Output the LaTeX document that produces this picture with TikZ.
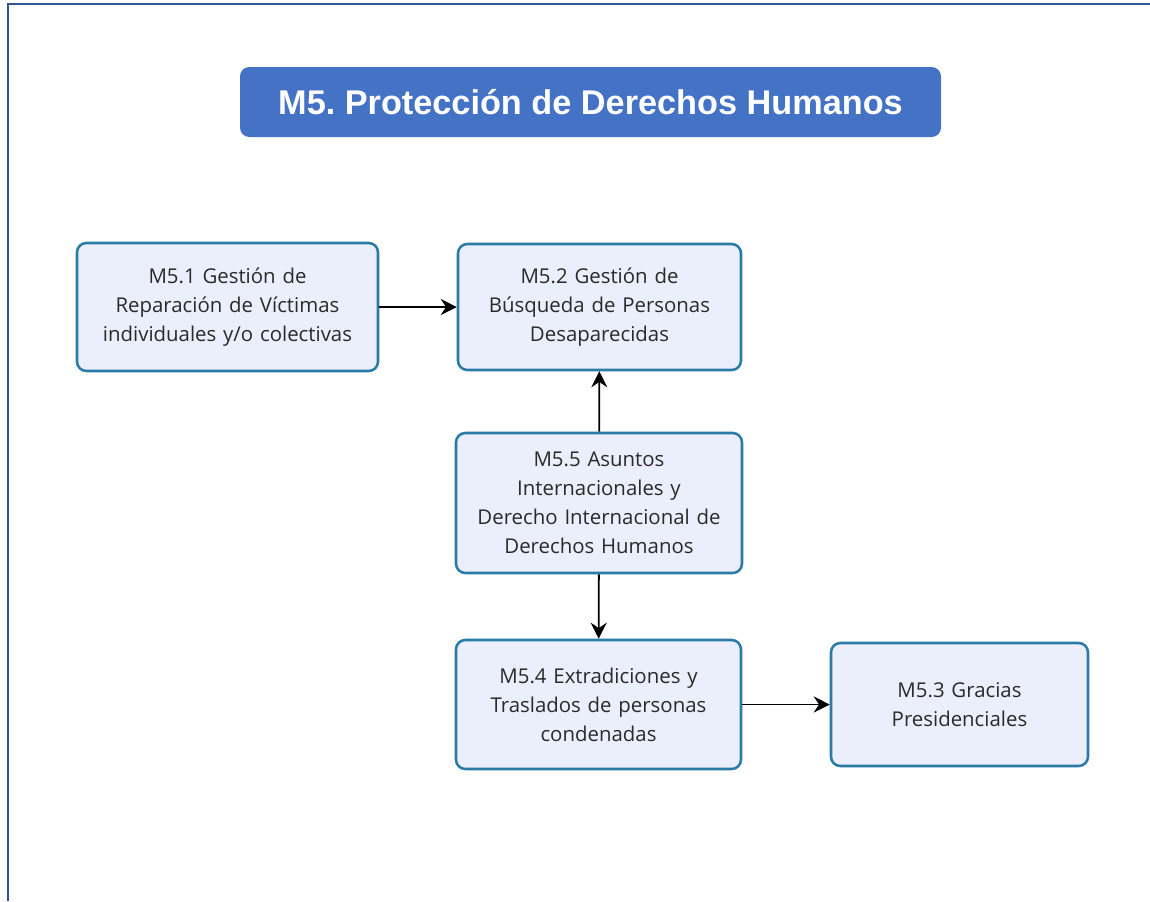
\documentclass[tikz,border=0pt]{standalone}
\usepackage{fontspec}
\setmainfont{Open Sans}
\newfontfamily\titlefont{Liberation Sans}
\usetikzlibrary{arrows.meta}

\definecolor{frameblue}{HTML}{2F5597}
\definecolor{titleblue}{HTML}{4472C4}
\definecolor{boxline}{HTML}{2B7BA8}
\definecolor{boxfill}{HTML}{EBEFFB}
\definecolor{boxtext}{HTML}{2A2A2A}

\begin{document}
\frenchspacing
\begin{tikzpicture}[x=0.75pt, y=-0.75pt,
    titlebox/.style={fill=titleblue, rounded corners=7pt, text=white,
        font=\titlefont\bfseries\fontsize{25.7}{30}\selectfont,
        minimum width=525.75pt, minimum height=52.5pt, inner sep=0pt},
    procbox/.style={draw=boxline, fill=boxfill, line width=1.9pt, rounded corners=7pt,
        text=boxtext, align=center, font=\fontsize{15.3}{21.75}\selectfont, inner sep=0pt},
    link/.style={-{Stealth[length=12pt, width=12pt, inset=4pt]}, line width=1.4pt, black}]
    \useasboundingbox (0, 0) rectangle (1150, 901);

    % Draw the frame
    \draw[frameblue, line width=1.8pt] (8, 901) -- (8, 4) -- (1150, 4);

    % Draw the title
    \node[titlebox] (title) at (590.5, 102) {M5. Protección de Derechos Humanos};

    % Draw the process boxes
    \node[procbox, minimum width=225.75pt, minimum height=96pt, text width=218pt] (m51) at (227.5, 307)
        {M5.1 Gestión de\\Reparación de Víctimas\\individuales y/o colectivas};
    \node[procbox, minimum width=212.25pt, minimum height=94.5pt, text width=205pt] (m52) at (599.5, 307)
        {M5.2 Gestión de\\Búsqueda de Personas\\Desaparecidas};
    \node[procbox, minimum width=214.5pt, minimum height=105pt, text width=207pt] (m55) at (599, 503)
        {M5.5 Asuntos\\Internacionales y\\Derecho Internacional de\\Derechos Humanos};
    \node[procbox, minimum width=213.75pt, minimum height=96.75pt, text width=205pt] (m54) at (598.5, 704.5)
        {M5.4 Extradiciones y\\Traslados de personas\\condenadas};
    \node[procbox, minimum width=192.75pt, minimum height=92.25pt, text width=185pt] (m53) at (959.5, 704.5)
        {M5.3 Gracias\\Presidenciales};

    % Add arrows between the boxes
    \draw[link] (m51) -- (m52);
    \draw[link] (m55) -- (m52);
    \draw[link] (m55) -- (m54);
    \draw[link] (m54) -- (m53);
\end{tikzpicture}
\end{document}
